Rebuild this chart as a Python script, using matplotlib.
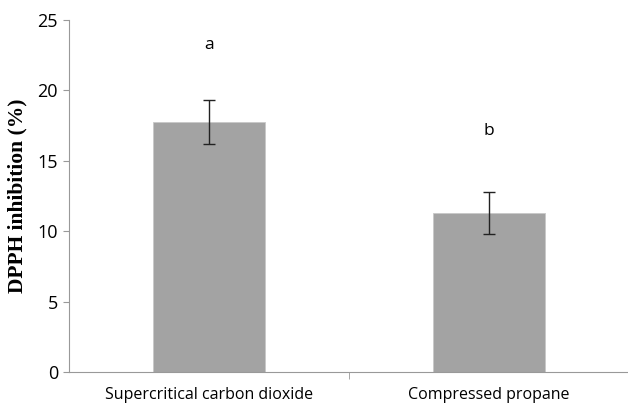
import matplotlib
matplotlib.use('Agg')
import matplotlib.pyplot as plt

categories = ['Supercritical carbon dioxide', 'Compressed propane']
values = [17.75, 11.3]
errors = [1.55, 1.5]
letters = ['a', 'b']
letter_y = [23.2, 17.1]

plt.rcParams['font.family'] = ['Open Sans', 'DejaVu Sans']

fig = plt.figure(figsize=(6.28, 4.05), dpi=100)
ax = fig.add_axes([0.1099, 0.0815, 0.8917, 0.869])

x = range(len(categories))
ax.bar(x, values, width=0.4, color='#a3a3a3', edgecolor='#c8c8c8', linewidth=0.6,
       yerr=errors, error_kw=dict(ecolor='#222222', elinewidth=1.0, capsize=4, capthick=1.0))
for i, t in enumerate(letters):
    ax.text(i, letter_y[i], t, ha='center', va='center', fontsize=12.5)

ax.set_xlim(-0.5, 1.5)
ax.set_ylim(0, 25)
ax.set_yticks([0, 5, 10, 15, 20, 25])
ax.set_xticks(list(x))
ax.set_xticklabels(categories, fontsize=11.5)
ax.tick_params(axis='x', length=0, pad=11)
ax.set_xticks([0.5], minor=True)
ax.tick_params(axis='x', which='minor', length=5, color='#999999')
ax.tick_params(axis='y', labelsize=13, length=4, color='#999999', pad=4)

for s in ['top', 'right']:
    ax.spines[s].set_visible(False)
for s in ['left', 'bottom']:
    ax.spines[s].set_color('#999999')
    ax.spines[s].set_linewidth(0.8)

ax.set_ylabel('DPPH inhibition (%)', family='Liberation Serif', fontweight='bold',
              fontsize=15.5, labelpad=7)

fig.savefig('out.png', dpi=100)
